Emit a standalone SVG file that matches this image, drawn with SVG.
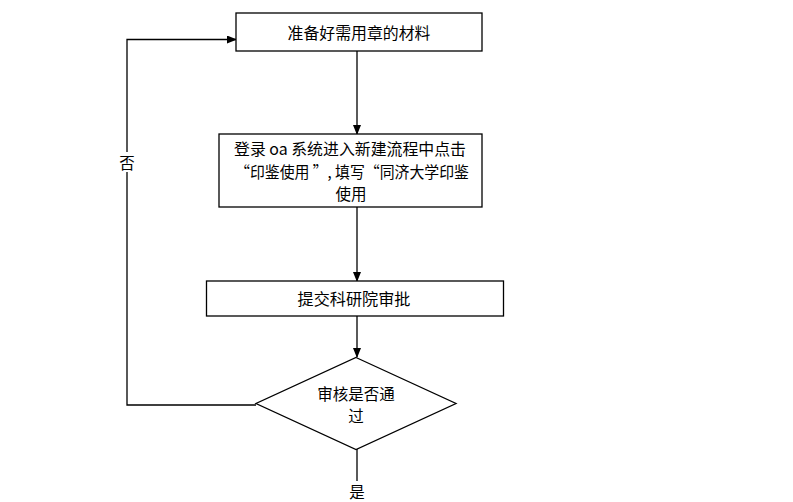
<svg xmlns="http://www.w3.org/2000/svg" width="793" height="502" viewBox="0 0 793 502">
<style>
.box{fill:#fff;stroke:#000;stroke-width:1.3}
.t{font-family:"Noto Sans CJK SC","Noto Sans",sans-serif;font-size:15.5px;fill:#000;text-anchor:middle;dominant-baseline:central}
.ln{fill:none;stroke:#000;stroke-width:1.3}
</style>
<defs>
<marker id="ah" markerWidth="10" markerHeight="8" refX="9" refY="4" orient="auto" markerUnits="userSpaceOnUse">
<path d="M0,0 L10,4 L0,8 Z" fill="#000"/>
</marker>
</defs>
<rect width="793" height="502" fill="#fff"/>
<g id="connectors">
<line class="ln" x1="357" y1="51" x2="357" y2="134" marker-end="url(#ah)"/>
<line class="ln" x1="357" y1="207" x2="357" y2="281" marker-end="url(#ah)"/>
<line class="ln" x1="357" y1="316" x2="357" y2="357" marker-end="url(#ah)"/>
<polyline class="ln" points="256,405 127,405 127,39.5 236,39.5" marker-end="url(#ah)"/>
<line class="ln" x1="357" y1="449" x2="357" y2="481"/>
<rect x="118" y="152" width="18" height="20" fill="#fff"/>
<text class="t" x="127" y="162">否</text>
<text class="t" x="357" y="491">是</text>
</g>
<g id="n1">
<rect class="box" x="236" y="13" width="246" height="38"/>
<text class="t" x="359" y="32" textLength="143" lengthAdjust="spacingAndGlyphs">准备好需用章的材料</text>
</g>
<g id="n2">
<rect class="box" x="219" y="134" width="263" height="73"/>
<text class="t" x="350" y="148" textLength="232" lengthAdjust="spacingAndGlyphs">登录 oa 系统进入新建流程中点击</text>
<text class="t" x="352" y="171" textLength="234" lengthAdjust="spacingAndGlyphs">“印鉴使用 ”, 填写“同济大学印鉴</text>
<text class="t" x="351" y="193">使用</text>
</g>
<g id="n3">
<rect class="box" x="206.5" y="281" width="297" height="35"/>
<text class="t" x="354" y="298" textLength="113" lengthAdjust="spacingAndGlyphs">提交科研院审批</text>
</g>
<g id="n4">
<polygon class="box" points="356,357.5 456,403.5 356,449.5 256,403.5"/>
<text class="t" x="356" y="393">审核是否通</text>
<text class="t" x="356" y="415">过</text>
</g>
</svg>
